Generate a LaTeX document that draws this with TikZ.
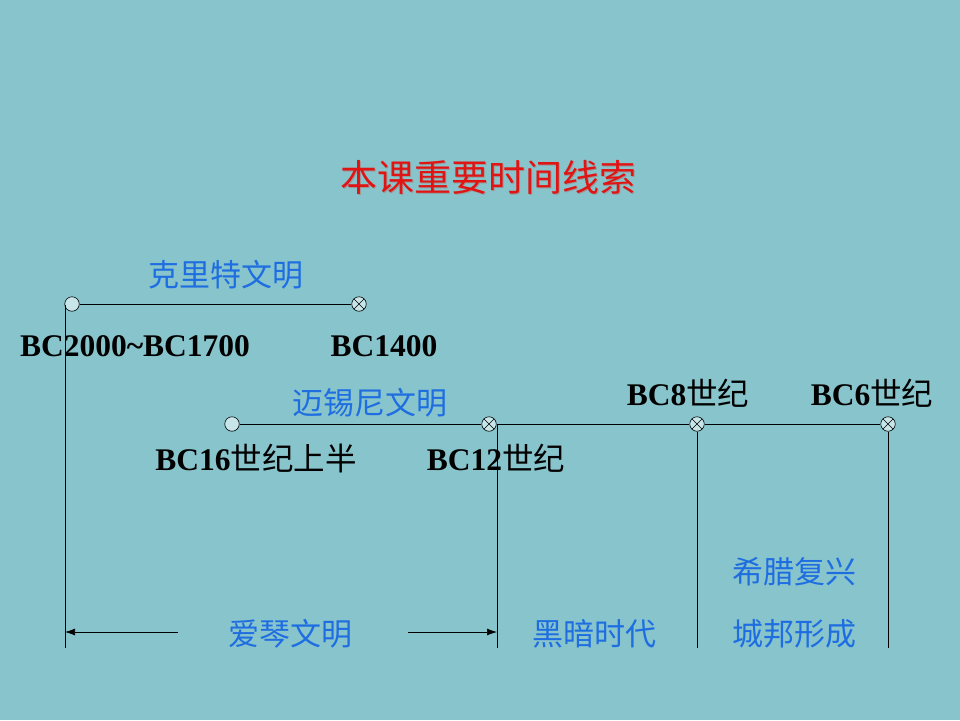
\documentclass[tikz,border=0pt]{standalone}
\usepackage{fontspec}
\setmainfont{Liberation Serif}
\newfontfamily\cjk{Noto Sans CJK SC}
\usetikzlibrary{arrows.meta}
\definecolor{bgc}{RGB}{136,196,204}
\definecolor{lblue}{RGB}{30,110,225}
\definecolor{tred}{RGB}{225,20,20}
\definecolor{dotfill}{RGB}{200,230,234}
\begin{document}
\begin{tikzpicture}[x=1pt,y=-1pt,
  plain/.style={circle,draw=black,fill=dotfill,inner sep=0pt,minimum size=14.5pt,line width=0.6pt},
  xdot/.style={plain,path picture={\draw[line width=0.6pt] (path picture bounding box.north west)--(path picture bounding box.south east)
     (path picture bounding box.north east)--(path picture bounding box.south west);}},
  bclab/.style={font=\fontsize{31.5}{31.5}\selectfont\bfseries,text=black,inner sep=0pt},
  bluelab/.style={font=\cjk\fontsize{31}{31}\selectfont,text=lblue,inner sep=0pt},
  ln/.style={draw=black,line width=0.7pt},
  arr/.style={ln,-{Latex[length=10pt,width=7pt]}}
]
\fill[bgc] (0,0) rectangle (960,720);
\useasboundingbox (0,0) rectangle (960,720);

% title
\node[font=\cjk\fontsize{37}{37}\selectfont,text=black!40,inner sep=0pt] at (489.5,178.5) {本课重要时间线索};
\node (title)[font=\cjk\fontsize{37}{37}\selectfont,text=tred,inner sep=0pt] at (488,177) {本课重要时间线索};

% line 1
\node (a1)[plain] at (72,304) {};
\node (a2)[xdot] at (359,304) {};
\draw[ln] (a1) -- (a2);
\node (l1)[bluelab] at (226,275) {克里特文明};
\node (t1)[bclab] at (135,346) {BC2000\char`~BC1700};
\node (t2)[bclab] at (384,346) {BC1400};

% line 2
\node (b1)[plain] at (232,424) {};
\node (b2)[xdot] at (489,424) {};
\node (b3)[xdot] at (697,424) {};
\node (b4)[xdot] at (888,424) {};
\draw[ln] (b1) -- (b2) -- (b3) -- (b4);
\node (l2)[bluelab] at (370,403) {迈锡尼文明};
\node (t3)[bclab] at (256,458) {BC16{\cjk\mdseries 世纪上半}};
\node (t4)[bclab] at (496,458) {BC12{\cjk\mdseries 世纪}};
\node (t5)[bclab] at (688,393) {BC8{\cjk\mdseries 世纪}};
\node (t6)[bclab] at (872,393) {BC6{\cjk\mdseries 世纪}};

% verticals
\coordinate (v1t) at (65,305);
\coordinate (v1b) at (65,648);
\coordinate (v2t) at (497,424);
\coordinate (v2b) at (497,648);
\coordinate (v3b) at (697,648);
\coordinate (v4b) at (888,648);
\draw[ln] (v1t) -- (v1b);
\draw[ln] (v2t) -- (v2b);
\draw[ln] (b3) -- (v3b);
\draw[ln] (b4) -- (v4b);

% bottom labels and arrows
\node (e)[bluelab] at (290,634) {爱琴文明};
\node (d)[bluelab] at (594,634) {黑暗时代};
\node (g1)[bluelab] at (794,572) {希腊复兴};
\node (g2)[bluelab] at (794,634) {城邦形成};
\coordinate (al) at (65,632);
\coordinate (ar) at (497,632);
\coordinate (als) at (178,632);
\coordinate (ars) at (408,632);
\draw[arr] (als) -- (al);
\draw[arr] (ars) -- (ar);
\end{tikzpicture}
\end{document}
